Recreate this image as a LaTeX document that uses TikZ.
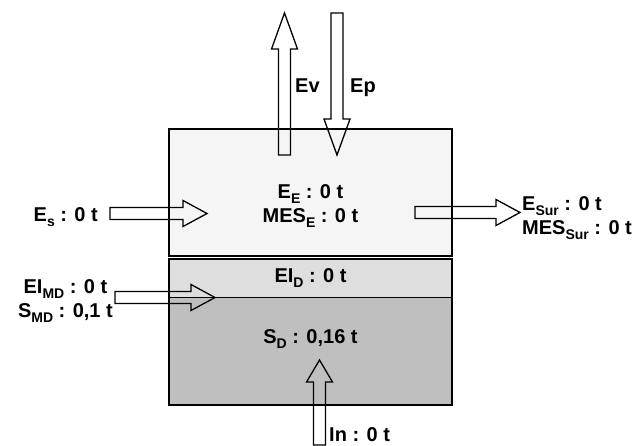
\documentclass[tikz,border=0pt]{standalone}
\usepackage{fontspec}
\setmainfont{Liberation Sans}
\usetikzlibrary{positioning,calc}
% lowered index, as in the figure
\newcommand{\lo}[1]{\raisebox{-5pt}{\fontsize{14}{14}\selectfont #1}}
% hollow block arrow from #2 to #3, head length #1
\newcommand{\flow}[3][24pt]{%
  \coordinate (hb) at ($(#3)!#1!(#2)$);
  \draw[flowarrow] ($(#2)!6pt!90:(#3)$) -- ($(hb)!6pt!90:(#3)$) -- ($(hb)!13pt!90:(#3)$) -- (#3)
    -- ($(hb)!13pt!-90:(#3)$) -- ($(hb)!6pt!-90:(#3)$) -- ($(#2)!6pt!-90:(#3)$) -- cycle;}
\tikzset{
  layer/.style={draw, line width=1.3pt, minimum width=283pt, inner sep=0pt},
  lbl/.style={font=\fontsize{20}{24}\selectfont\bfseries, align=center, inner sep=0pt},
  flowarrow/.style={draw, line width=1.3pt, line join=miter}}
\begin{document}
\begin{tikzpicture}[x=1pt, y=-1pt, node distance=2pt]
  \useasboundingbox (0,0) rectangle (644,446);
  \node[layer, fill=black!4, minimum height=127pt] (eau) at (310.5,192.5) {};
  \node[layer, fill=black!13, minimum height=38.5pt] (dep) at (310.5,278.25) {};
  \node[layer, fill=black!25, minimum height=107.5pt] (sed) at (310.5,351.25) {};
  \node[lbl] (eautxt) at (310.5,206.3) {E\lo{E} : 0 t\\MES\lo{E} : 0 t};
  \node[lbl] (deptxt) at (310.5,278.3) {EI\lo{D} : 0 t};
  \node[lbl] (sedtxt) at (310.5,339.3) {S\lo{D} : 0,16 t};

  \coordinate (ev0) at (284.5,155); \coordinate (ev1) at (284.5,13);
  \coordinate (ep0) at (337,13);    \coordinate (ep1) at (337,155);
  \coordinate (es0) at (110,213.5); \coordinate (es1) at (207,213.5);
  \coordinate (sur0) at (415,212.5); \coordinate (sur1) at (520,212.5);
  \coordinate (md0) at (115,297.5); \coordinate (md1) at (215,297.5);
  \coordinate (in0) at (319.5,445); \coordinate (in1) at (319.5,360);
  \flow[36pt]{ev0}{ev1}
  \flow[36pt]{ep0}{ep1}
  \flow{es0}{es1}
  \flow{sur0}{sur1}
  \flow{md0}{md1}
  \flow[22pt]{in0}{in1}

  \node[lbl, anchor=base west] (evtxt) at (295,93) {Ev};
  \node[lbl, anchor=base west] (eptxt) at (350,93) {Ep};
  \node[lbl, left=12pt of es0, yshift=-4pt] (estxt) {E\lo{s} : 0 t};
  \node[lbl, align=left, right=of sur1, yshift=-6pt] (surtxt) {E\lo{Sur} : 0 t\\MES\lo{Sur} : 0 t};
  \node[lbl, left=of md0, yshift=-4pt] (mdtxt) {EI\lo{MD} : 0 t\\S\lo{MD} : 0,1 t};
  \node[lbl, anchor=base west] (intxt) at (329,441) {In : 0 t};
\end{tikzpicture}
\end{document}
